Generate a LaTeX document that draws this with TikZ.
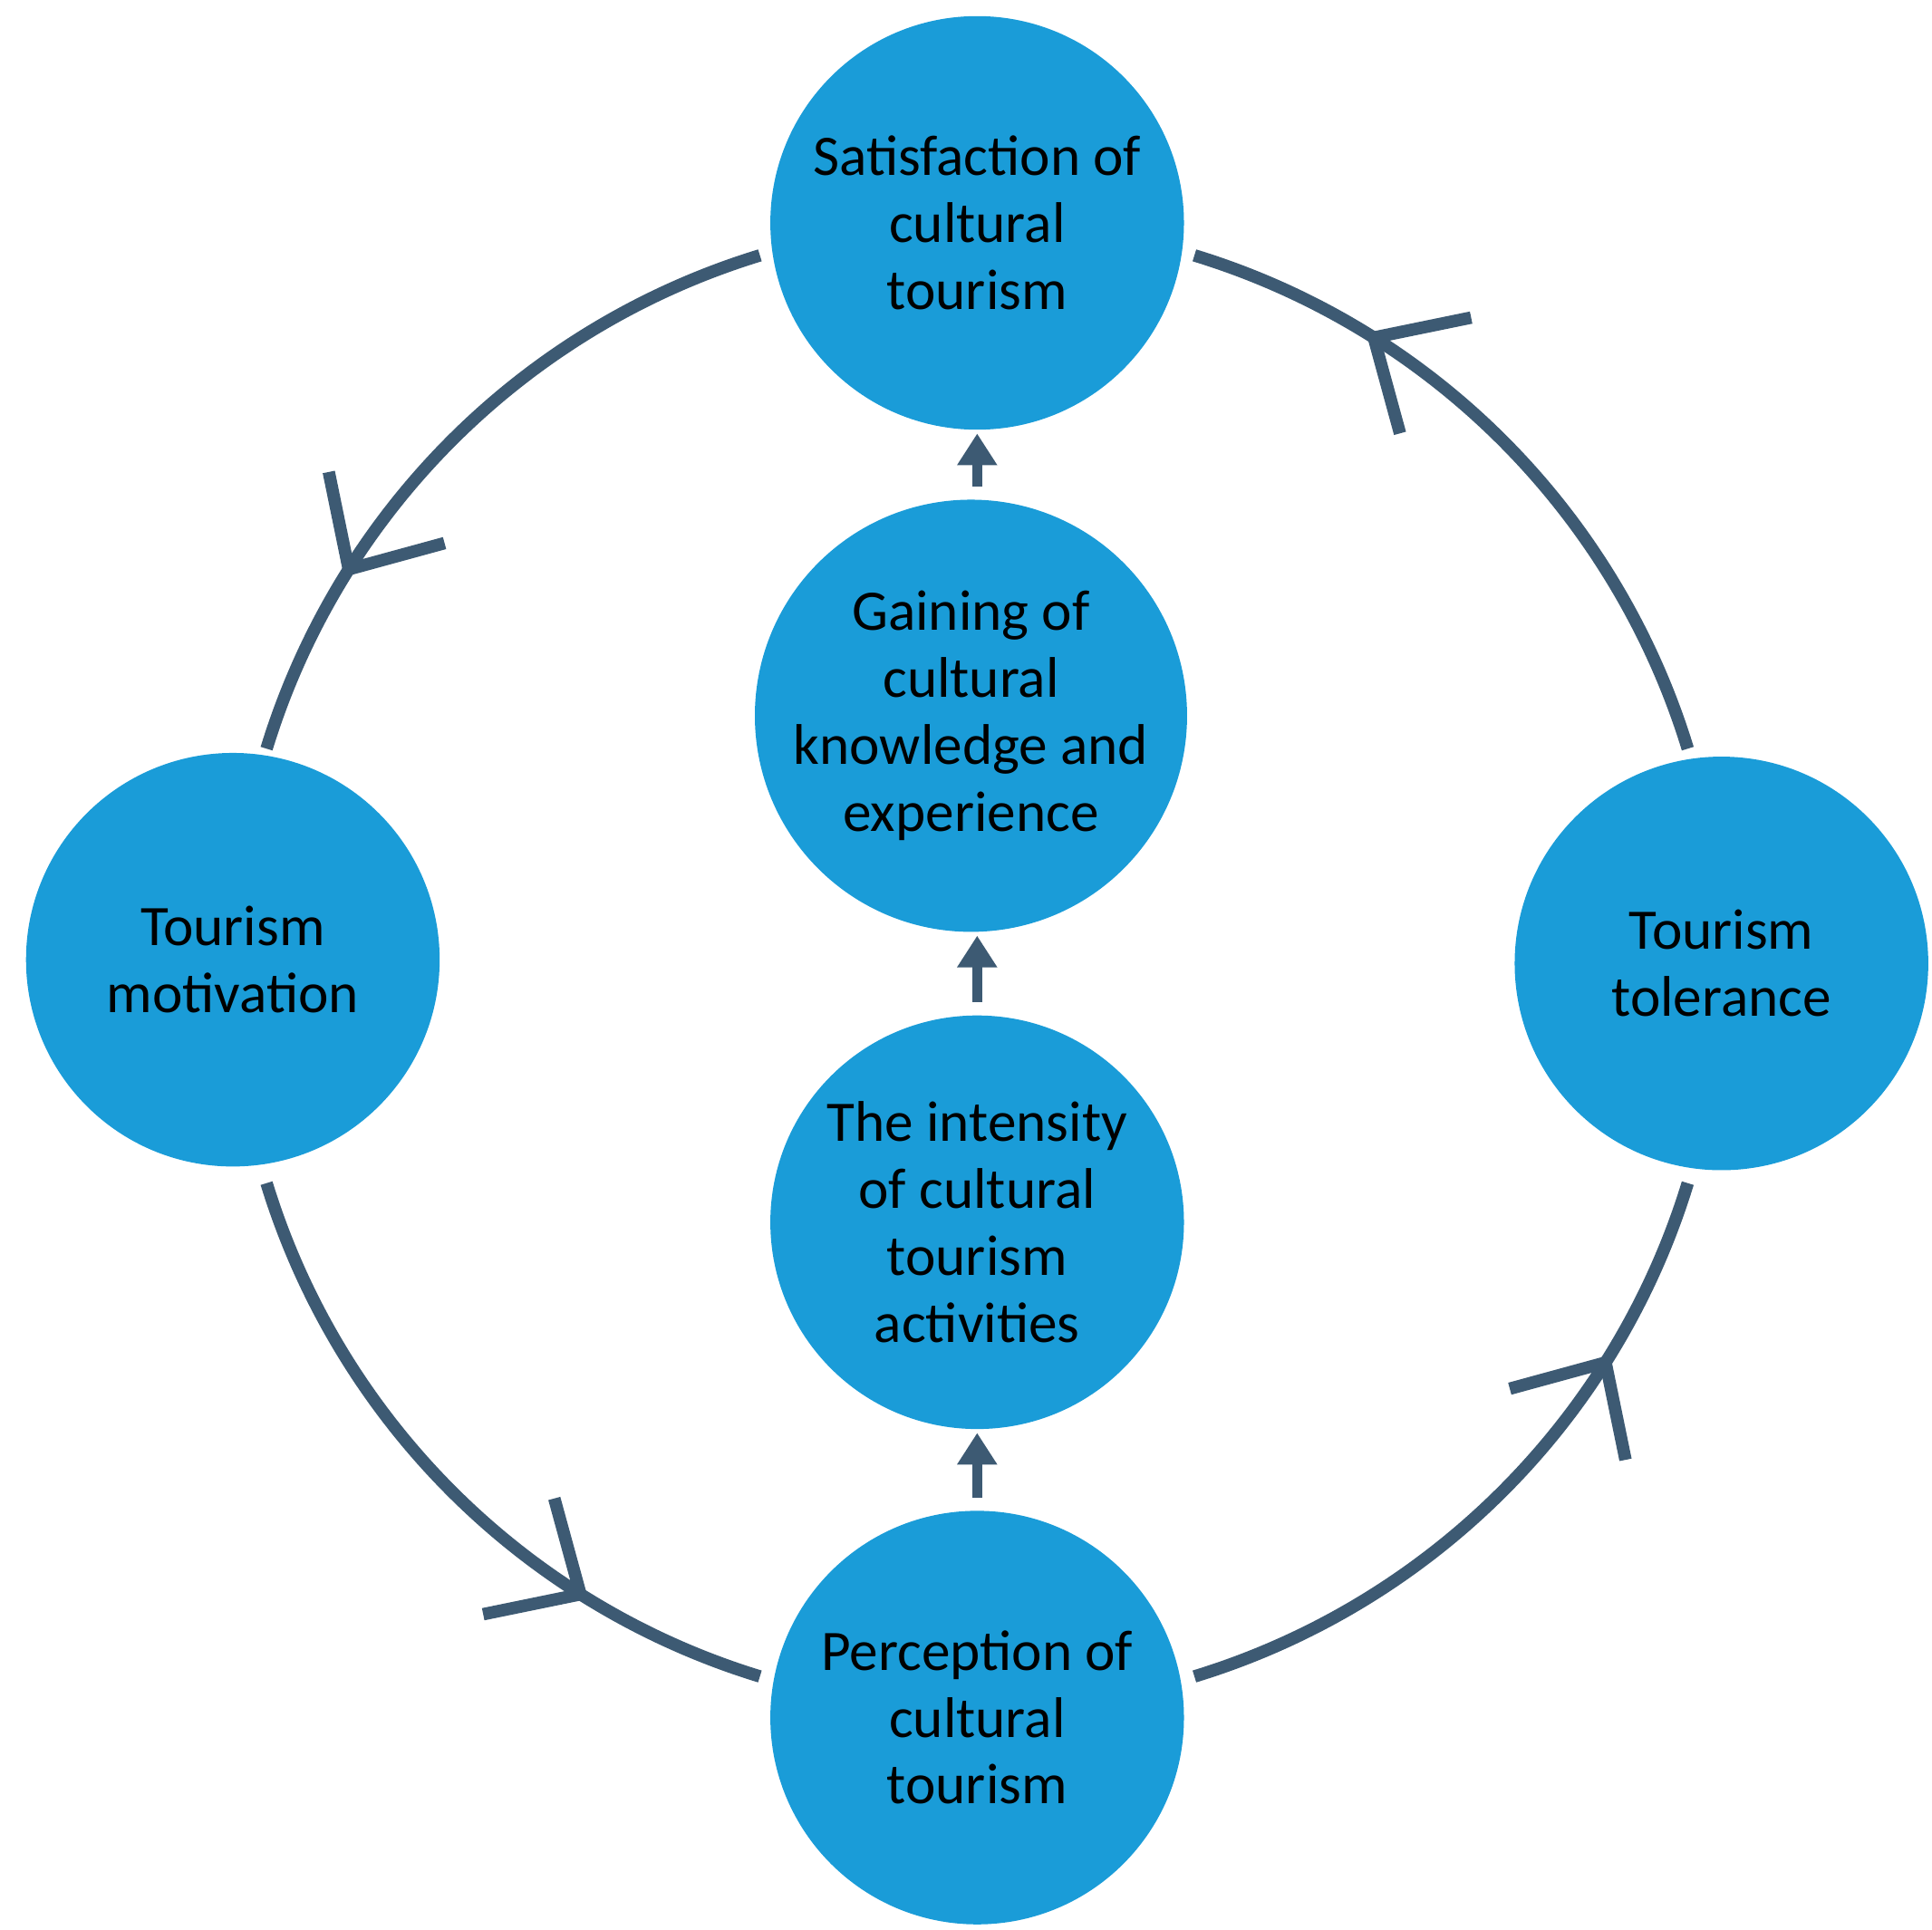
\documentclass[tikz,border=0pt]{standalone}
\usepackage{fontspec}
\setmainfont{Carlito}
\usetikzlibrary{arrows.meta,decorations.markings}
\definecolor{cyc}{HTML}{1A9CD8}
\definecolor{lnk}{HTML}{3D5A73}
\tikzset{
  stage/.style={circle,fill=cyc,minimum size=4.566cm,inner sep=0pt,align=center,
    font=\fontsize{18}{21}\selectfont},
  loop/.style={draw=lnk,line width=3.9pt,postaction={decorate},
    decoration={markings,mark=at position 0.74 with
      {\arrow{Straight Barb[length=0.8cm,width=1.5cm,line width=3.9pt]}}}},
  up/.style={draw=lnk,line width=3pt,-{Triangle[length=0.35cm,width=0.42cm]},shorten <=4pt,shorten >=1pt}
}
\begin{document}
\begin{tikzpicture}[x=0.01367cm,y=0.01367cm]
            \useasboundingbox (0,0) rectangle (1560,1558);
            \coordinate (c) at (789,778);
            \begin{scope}[every node/.style={stage}]
                \node (sat) at (789,1378) {Satisfaction of\\cultural\\tourism};
                \node (gain) at (784,980) {Gaining of\\cultural\\knowledge and\\experience};
                \node (int) at (789,571) {The intensity\\of cultural\\tourism\\activities};
                \node (per) at (789,171) {Perception of\\cultural\\tourism};
                \node (mot) at (188,783) {Tourism\\motivation};
                \node (tol) at (1390,780) {Tourism\\tolerance};
            \end{scope}
            \draw[loop] ([shift={(107:600)}]c) arc[start angle=107,end angle=163,radius=600];
            \draw[loop] ([shift={(197:600)}]c) arc[start angle=197,end angle=253,radius=600];
            \draw[loop] ([shift={(287:600)}]c) arc[start angle=287,end angle=343,radius=600];
            \draw[loop] ([shift={(17:600)}]c) arc[start angle=17,end angle=73,radius=600];
            \draw[up] (per.north) -- (int.south);
            \draw[up] (int.north) -- (int.north |- gain.south);
            \draw[up] (int.north |- gain.north) -- (int.north |- sat.south);
        \end{tikzpicture}
\end{document}
